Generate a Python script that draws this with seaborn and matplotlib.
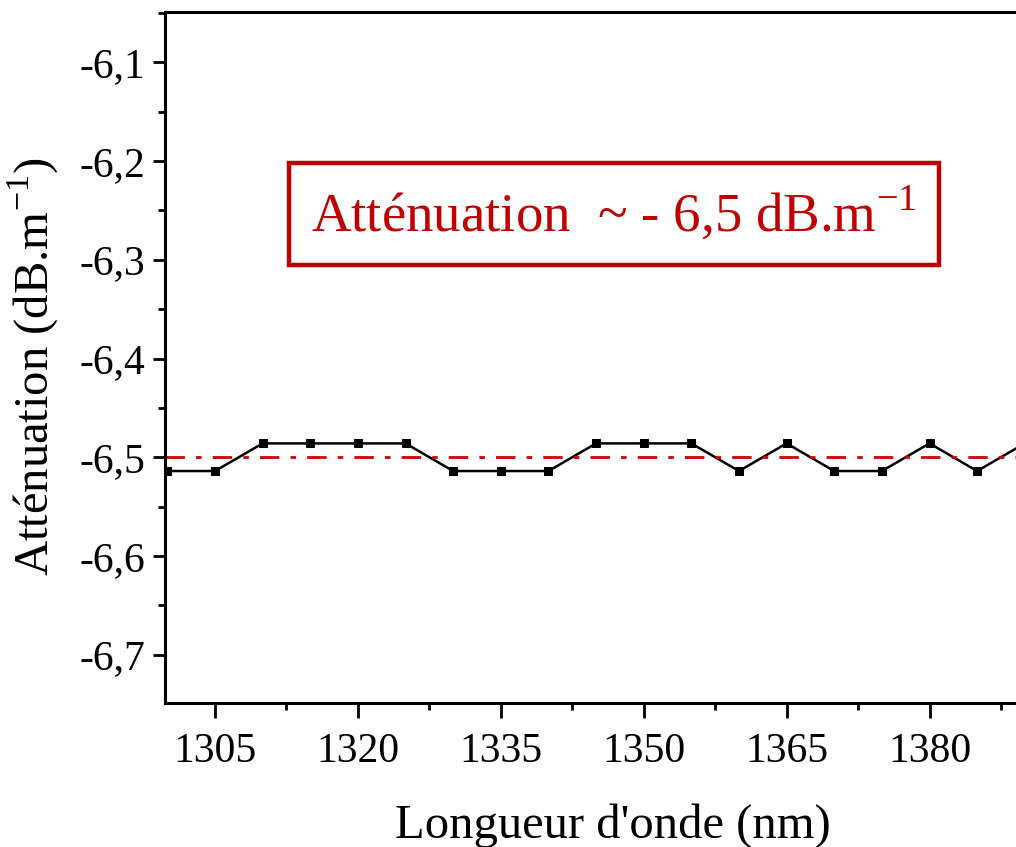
import matplotlib
matplotlib.use("Agg")
import numpy as np
import pandas as pd
import matplotlib.pyplot as plt
import matplotlib.ticker as mticker
import seaborn as sns

# --- donnees ---
longueur_onde = [1300, 1305, 1310, 1315, 1320, 1325, 1330, 1335, 1340, 1345,
                 1350, 1355, 1360, 1365, 1370, 1375, 1380, 1385, 1390]
attenuation = [-6.514, -6.514, -6.486, -6.486, -6.486, -6.486, -6.514, -6.514, -6.514, -6.486,
               -6.486, -6.486, -6.514, -6.486, -6.514, -6.514, -6.486, -6.514, -6.486]
moyenne = -6.5
x_ticks = [1305, 1320, 1335, 1350, 1365, 1380]
y_ticks = [-6.7, -6.6, -6.5, -6.4, -6.3, -6.2, -6.1]

df = pd.DataFrame({"lambda": longueur_onde, "att": attenuation})

sns.set_style("ticks")
plt.rcParams['font.family'] = ['Liberation Serif', 'DejaVu Serif']
plt.rcParams['mathtext.fontset'] = 'custom'
plt.rcParams['mathtext.rm'] = 'Liberation Serif'
plt.rcParams['axes.unicode_minus'] = False
plt.rcParams['text.color'] = 'black'
plt.rcParams['axes.labelcolor'] = 'black'
plt.rcParams['xtick.color'] = 'black'
plt.rcParams['ytick.color'] = 'black'
plt.rcParams['axes.edgecolor'] = 'black'

fig = plt.figure(figsize=(10.16, 8.47), dpi=100)
ax = fig.add_axes([0.1624, 0.170, 0.865, 0.8158])

sns.lineplot(data=df, x="lambda", y="att", ax=ax, color="black", linewidth=1.8,
             marker="s", markersize=6, markeredgecolor="black")
ax.axhline(moyenne, color="#d00000", linestyle=(0, (7, 4, 2, 4)), linewidth=2)

ax.set_xlim(1299.75, 1392)
ax.set_ylim(-6.749, -6.049)
ax.set_xticks(x_ticks)
ax.xaxis.set_minor_locator(mticker.MultipleLocator(7.5))
ax.set_yticks(y_ticks)
ax.yaxis.set_minor_locator(mticker.MultipleLocator(0.05))
ax.yaxis.set_major_formatter(mticker.FuncFormatter(lambda v, p: f"{v:.1f}".replace(".", ",")))

for s in ax.spines.values():
    s.set_linewidth(2.2)
ax.tick_params(which="major", length=9, width=2, labelsize=30, direction="out", pad=5)
ax.tick_params(which="minor", length=5, width=2, direction="out")
ax.tick_params(axis="x", which="major", length=11, pad=10)

ax.set_xlabel("Longueur d'onde (nm)", fontsize=35)
ax.set_ylabel("Atténuation (dB.m$^{-1}$)", fontsize=35)
ax.xaxis.set_label_coords(0.51, -0.145)
ax.yaxis.set_label_coords(-0.118, 0.487)

ax.text(0.511, 0.708, "Atténuation  ~ - 6,5 dB.m$^{-1}$", transform=ax.transAxes,
        ha="center", va="center", fontsize=39.5, color="#c00000",
        bbox=dict(boxstyle="square,pad=0.40", facecolor="white", edgecolor="#c00000", linewidth=3.2))

fig.savefig("out.png", dpi=100)
